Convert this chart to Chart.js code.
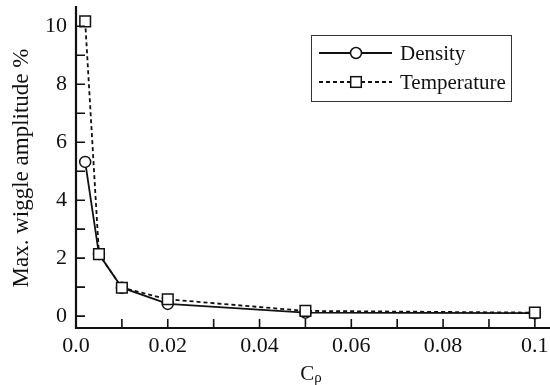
<!DOCTYPE html>
<html>
<head>
<meta charset="utf-8">
<script src="https://cdn.jsdelivr.net/npm/chart.js@4/dist/chart.umd.min.js"></script>
<style>
  html, body { margin: 0; padding: 0; background: #fff; }
  #wrap { width: 550px; height: 385px; }
</style>
</head>
<body>
<div id="wrap"><canvas id="c" width="550" height="385"></canvas></div>
<script>
// Coefficient values and the peak wiggle amplitude (%) for each field
const cpValues = [0.002, 0.005, 0.01, 0.02, 0.05, 0.1];
const densityAmp = [5.32, 2.14, 0.98, 0.42, 0.12, 0.1];
const temperatureAmp = [10.17, 2.14, 0.98, 0.58, 0.18, 0.12];

// Tick positions and their labels
const xTickValues = [0, 0.01, 0.02, 0.03, 0.04, 0.05, 0.06, 0.07, 0.08, 0.09, 0.1];
const xTickLabels = { 0: '0.0', 0.02: '0.02', 0.04: '0.04', 0.06: '0.06', 0.08: '0.08', 0.1: '0.1' };
const yTickValues = [0, 1, 2, 3, 4, 5, 6, 7, 8, 9, 10];
const yTickLabels = { 0: '0', 2: '2', 4: '4', 6: '6', 8: '8', 10: '10' };

const seriesNames = ['Density', 'Temperature'];
const yTitle = 'Max. wiggle amplitude %';
const xTitleMain = 'C';
const xTitleSub = 'ρ';

const SERIF = "'Liberation Serif', 'Times New Roman', serif";
const INK = '#111';

function labelFor(map, v) {
  const key = Object.keys(map).find(k => Math.abs(Number(k) - v) < 1e-9);
  return key === undefined ? '' : map[key];
}

// Inward ticks, x tick labels, axis titles and boxed legend
const decorations = {
  id: 'decorations',
  afterDraw(chart) {
    const ctx = chart.ctx;
    const xs = chart.scales.x, ys = chart.scales.y;
    const area = chart.chartArea;
    ctx.save();
    ctx.strokeStyle = INK;
    ctx.lineWidth = 1.6;
    ctx.beginPath();
    xs.ticks.forEach(t => {
      const px = xs.getPixelForValue(t.value);
      ctx.moveTo(px, area.bottom);
      ctx.lineTo(px, area.bottom - 9);
    });
    ys.ticks.forEach(t => {
      const py = ys.getPixelForValue(t.value);
      ctx.moveTo(area.left, py);
      ctx.lineTo(area.left + 9, py);
    });
    ctx.stroke();

    // axis lines
    ctx.lineWidth = 2.2;
    ctx.beginPath();
    ctx.moveTo(area.left, area.top);
    ctx.lineTo(area.left, area.bottom);
    ctx.lineTo(area.right, area.bottom);
    ctx.stroke();

    // x tick labels
    ctx.fillStyle = INK;
    ctx.font = '22px ' + SERIF;
    ctx.textAlign = 'center';
    ctx.textBaseline = 'alphabetic';
    xs.ticks.forEach(t => {
      const txt = labelFor(xTickLabels, t.value);
      if (txt) ctx.fillText(txt, xs.getPixelForValue(t.value), 352);
    });

    // x title with subscript
    ctx.font = '21px ' + SERIF;
    const cw = ctx.measureText(xTitleMain).width;
    ctx.font = '15px ' + SERIF;
    const sw = ctx.measureText(xTitleSub).width;
    const cx = 311;
    const startX = cx - (cw + sw) / 2;
    ctx.font = '21px ' + SERIF;
    ctx.textAlign = 'left';
    ctx.fillText(xTitleMain, startX, 380);
    ctx.font = '15px ' + SERIF;
    ctx.fillText(xTitleSub, startX + cw, 382);

    // y title, rotated
    ctx.save();
    ctx.translate(28, 168);
    ctx.rotate(-Math.PI / 2);
    ctx.font = '23px ' + SERIF;
    ctx.textAlign = 'center';
    ctx.textBaseline = 'alphabetic';
    ctx.fillText(yTitle, 0, 0);
    ctx.restore();

    // legend box
    ctx.lineWidth = 1;
    ctx.strokeStyle = '#333';
    ctx.strokeRect(311.5, 35.5, 200, 66);
    const rows = [
      { y: 53, dash: [], ds: chart.data.datasets[0] },
      { y: 82, dash: [4, 3], ds: chart.data.datasets[1] }
    ];
    rows.forEach((r, i) => {
      ctx.strokeStyle = INK;
      ctx.lineWidth = 1.8;
      ctx.setLineDash(r.dash);
      ctx.beginPath();
      ctx.moveTo(319, r.y);
      ctx.lineTo(392, r.y);
      ctx.stroke();
      ctx.setLineDash([]);
      ctx.fillStyle = '#fff';
      ctx.lineWidth = 1.5;
      if (r.ds.pointStyle === 'circle') {
        ctx.beginPath();
        ctx.arc(356, r.y, r.ds.pointRadius, 0, Math.PI * 2);
        ctx.fill();
        ctx.stroke();
      } else {
        const s = r.ds.pointRadius * Math.SQRT1_2;
        ctx.fillRect(356 - s, r.y - s, 2 * s, 2 * s);
        ctx.strokeRect(356 - s, r.y - s, 2 * s, 2 * s);
      }
      ctx.fillStyle = INK;
      ctx.font = '21px ' + SERIF;
      ctx.textAlign = 'left';
      ctx.textBaseline = 'middle';
      ctx.fillText(seriesNames[i], 400, r.y + 1);
    });
    ctx.restore();
  }
};

new Chart(document.getElementById('c'), {
  type: 'line',
  data: {
    datasets: [
      {
        label: seriesNames[0],
        data: cpValues.map((x, i) => ({ x, y: densityAmp[i] })),
        borderColor: INK,
        borderWidth: 1.8,
        pointStyle: 'circle',
        pointRadius: 5.5,
        pointBorderWidth: 1.5,
        pointBackgroundColor: '#fff',
        pointBorderColor: INK,
        tension: 0,
        order: 2
      },
      {
        label: seriesNames[1],
        data: cpValues.map((x, i) => ({ x, y: temperatureAmp[i] })),
        borderColor: INK,
        borderWidth: 1.8,
        borderDash: [4, 3],
        pointStyle: 'rect',
        pointRadius: 7.5,
        pointBorderWidth: 1.5,
        pointBackgroundColor: '#fff',
        pointBorderColor: INK,
        tension: 0,
        order: 1
      }
    ]
  },
  options: {
    responsive: false,
    animation: false,
    devicePixelRatio: 1,
    clip: false,
    layout: { autoPadding: false, padding: { left: 0, right: 0, top: 6, bottom: 0 } },
    plugins: { legend: { display: false }, tooltip: { enabled: false } },
    scales: {
      x: {
        type: 'linear',
        min: 0,
        max: 0.1033,
        afterBuildTicks: s => { s.ticks = xTickValues.map(v => ({ value: v })); },
        afterFit: s => { s.height = 57; },
        ticks: { display: false },
        grid: { display: false, drawTicks: false },
        border: { display: false }
      },
      y: {
        type: 'linear',
        min: -0.41,
        max: 10.7,
        afterBuildTicks: s => { s.ticks = yTickValues.map(v => ({ value: v })); },
        afterFit: s => {
          s.width = 76;
          s.paddingRight = 0; s.paddingLeft = 0; s.paddingTop = 0; s.paddingBottom = 0;
        },
        ticks: {
          autoSkip: false,
          padding: 9,
          color: INK,
          font: { family: SERIF, size: 22 },
          callback: v => labelFor(yTickLabels, v)
        },
        grid: { display: false, drawTicks: false },
        border: { display: false }
      }
    }
  },
  plugins: [decorations]
});
</script>
</body>
</html>
